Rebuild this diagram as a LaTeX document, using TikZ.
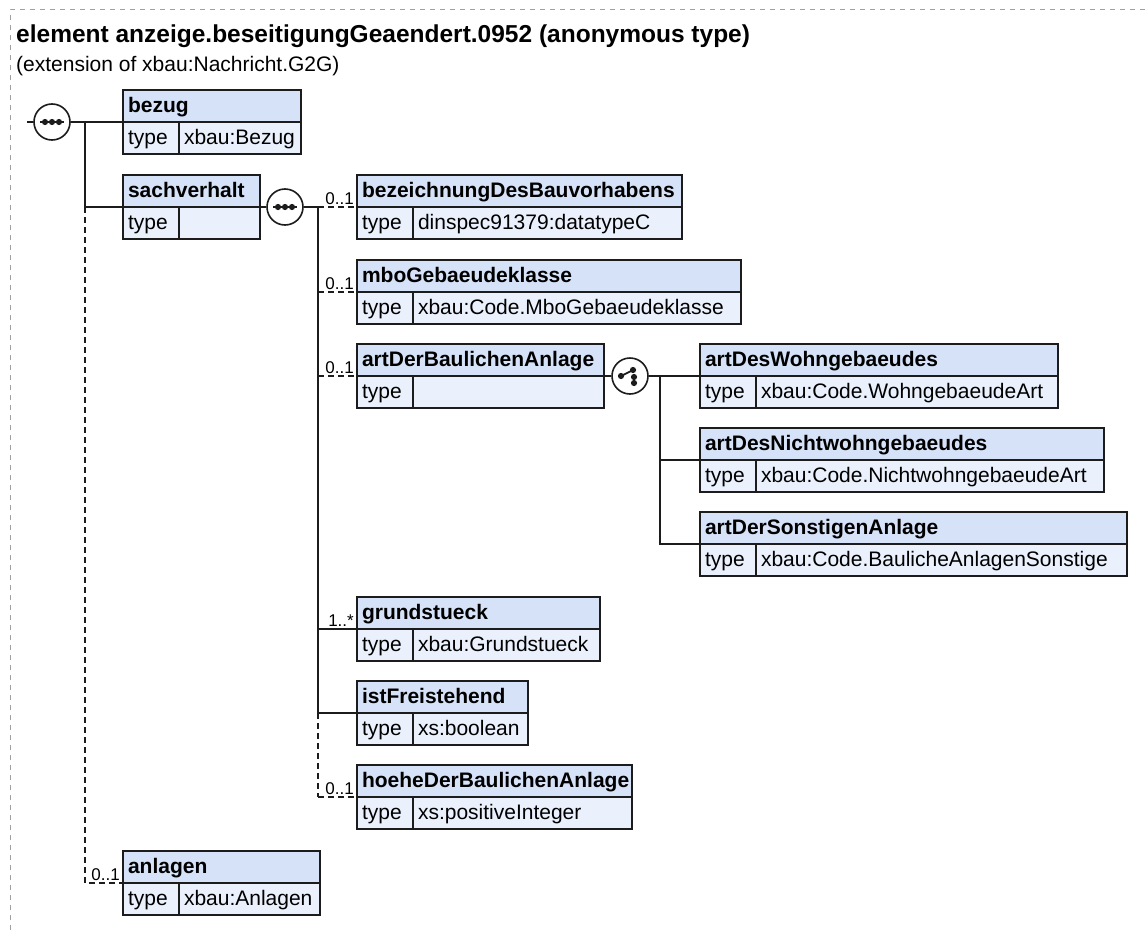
\documentclass[tikz,border=0pt]{standalone}
\usepackage{fontspec}
\setmainfont{Liberation Sans}
\usetikzlibrary{positioning}
\definecolor{xsdhead}{RGB}{213,226,247}
\definecolor{xsdrow}{RGB}{234,241,252}
\definecolor{xsdline}{RGB}{28,28,28}
\definecolor{xsdframe}{RGB}{160,160,160}
\tikzset{
  cell/.style={draw=xsdline, line width=1.6pt, outer sep=0pt, inner xsep=5pt, inner ysep=0pt, minimum height=32pt, text height=17pt, text depth=4pt, align=left, font=\fontsize{21}{25}\selectfont},
  hdr/.style={cell, fill=xsdhead, anchor=north west, font=\bfseries\fontsize{21}{25}\selectfont},
  tcell/.style={cell, fill=xsdrow, text width=46pt},
  vcell/.style={cell, fill=xsdrow},
  conn/.style={draw=xsdline, line width=1.6pt},
  opt/.style={conn, dash pattern=on 6pt off 4pt},
  comp/.style={circle, draw=xsdline, fill=white, line width=1.6pt, minimum size=36pt, inner sep=0pt},
  dot/.style={fill=xsdline},
  mult/.style={anchor=base east, inner sep=0pt, font=\fontsize{17}{20}\selectfont}
}
% element box: name, top-left corner, width, title, type
\newcommand{\xelem}[5]{%
  \pgfmathsetmacro{\hdrw}{#3-10}%
  \pgfmathsetmacro{\valw}{#3-66}%
  \node[hdr, text width=\hdrw pt] (#1) at (#2) {\mbox{#4}};
  \node[tcell, below right=0pt and 0pt of #1.south west] (#1-t) {type};
  \node[vcell, text width=\valw pt, right=0pt of #1-t] (#1-v) {\mbox{#5}};
}

\begin{document}
\begin{tikzpicture}[x=1pt, y=-1pt]
  \useasboundingbox (0,0) rectangle (1147,934);
  \draw[xsdframe, line width=1pt, dash pattern=on 5pt off 5pt] (10,1100) |- (1300,10);
  % heading
  \node[anchor=base west, inner sep=0pt, font=\bfseries\fontsize{24.5}{28}\selectfont] (title) at (16,42) {element anzeige.beseitigungGeaendert.0952 (anonymous type)};
  \node[anchor=base west, inner sep=0pt, font=\fontsize{21}{25}\selectfont] (subtitle) at (16,71) {(extension of xbau:Nachricht.G2G)};

  % elements
  \xelem{bezug}{123,90}{178}{bezug}{xbau:Bezug}
  \xelem{sach}{123,175}{137}{sachverhalt}{}
  \xelem{bez}{357,175}{325}{bezeichnungDesBauvorhabens}{dinspec91379:datatypeC}
  \xelem{mbo}{357,260}{384}{mboGebaeudeklasse}{xbau:Code.MboGebaeudeklasse}
  \xelem{artb}{357,344}{247}{artDerBaulichenAnlage}{}
  \xelem{wohn}{700,344}{358}{artDesWohngebaeudes}{xbau:Code.WohngebaeudeArt}
  \xelem{nicht}{700,428}{404}{artDesNichtwohngebaeudes}{xbau:Code.NichtwohngebaeudeArt}
  \xelem{sonst}{700,512}{427}{artDerSonstigenAnlage}{xbau:Code.BaulicheAnlagenSonstige}
  \xelem{grund}{357,597}{243}{grundstueck}{xbau:Grundstueck}
  \xelem{ist}{357,681}{171}{istFreistehend}{xs:boolean}
  \xelem{hoehe}{357,765}{275}{hoeheDerBaulichenAnlage}{xs:positiveInteger}
  \xelem{anl}{123,851}{197}{anlagen}{xbau:Anlagen}

  % sequence / choice compositors
  \node[comp] (seq1) at (52,122) {};
  \node[comp] (seq2) at (285,207) {};
  \node[comp] (cho1) at (630,376) {};
  \foreach \c in {seq1,seq2} {
    \draw[conn] ([xshift=-12pt]\c.center) -- ([xshift=12pt]\c.center);
    \foreach \d in {-7,0,7} \fill[dot] ([xshift=\d pt]\c.center) circle (3.1pt);
  }
  \draw[conn, line width=1.8pt] ([shift={(-9pt,0pt)}]cho1.center) -- ([shift={(3pt,6pt)}]cho1.center);
  \foreach \p in {(-9pt,0pt),(3pt,6pt),(4pt,-1pt),(4pt,-7pt)}
    \fill[dot] ([shift={\p}]cho1.center) circle (3.1pt);

  % connectors
  \coordinate (in1) at (27,122);
  \coordinate (bus1) at (85,122);
  \coordinate (bus2) at (318,207);
  \coordinate (bus3) at (660,376);
  \draw[conn] (in1) -- (seq1);
  \draw[conn] (seq1) -- (bezug.south west);
  \draw[conn] (bus1) |- (sach.south west);
  \draw[opt] (bus1 |- sach.south west) |- (anl.south west);
  \draw[conn] (sach.south east) -- (seq2);
  \draw[conn] (seq2) -- (bus2);
  \draw[conn] (bus2) -- (bus2 |- ist.south west);
  \draw[opt] (bus2 |- ist.south west) -- (bus2 |- hoehe.south west);
  \foreach \e in {bez,mbo,artb,hoehe} \draw[opt] (bus2 |- \e.south west) -- (\e.south west);
  \foreach \e in {grund,ist} \draw[conn] (bus2 |- \e.south west) -- (\e.south west);
  \draw[conn] (artb.south east) -- (cho1);
  \draw[conn] (cho1) -- (wohn.south west);
  \draw[conn] (bus3) |- (nicht.south west);
  \draw[conn] (bus3) |- (sonst.south west);

  % occurrence labels
  \foreach \e in {bez,mbo,artb,hoehe,anl}
    \node[mult] (\e-m) at ([xshift=-3pt,yshift=2.5pt]\e.south west) {0..1};
  \node[mult] (grund-m) at ([xshift=-3pt,yshift=2.5pt]grund.south west) {1..*};
\end{tikzpicture}
\end{document}
